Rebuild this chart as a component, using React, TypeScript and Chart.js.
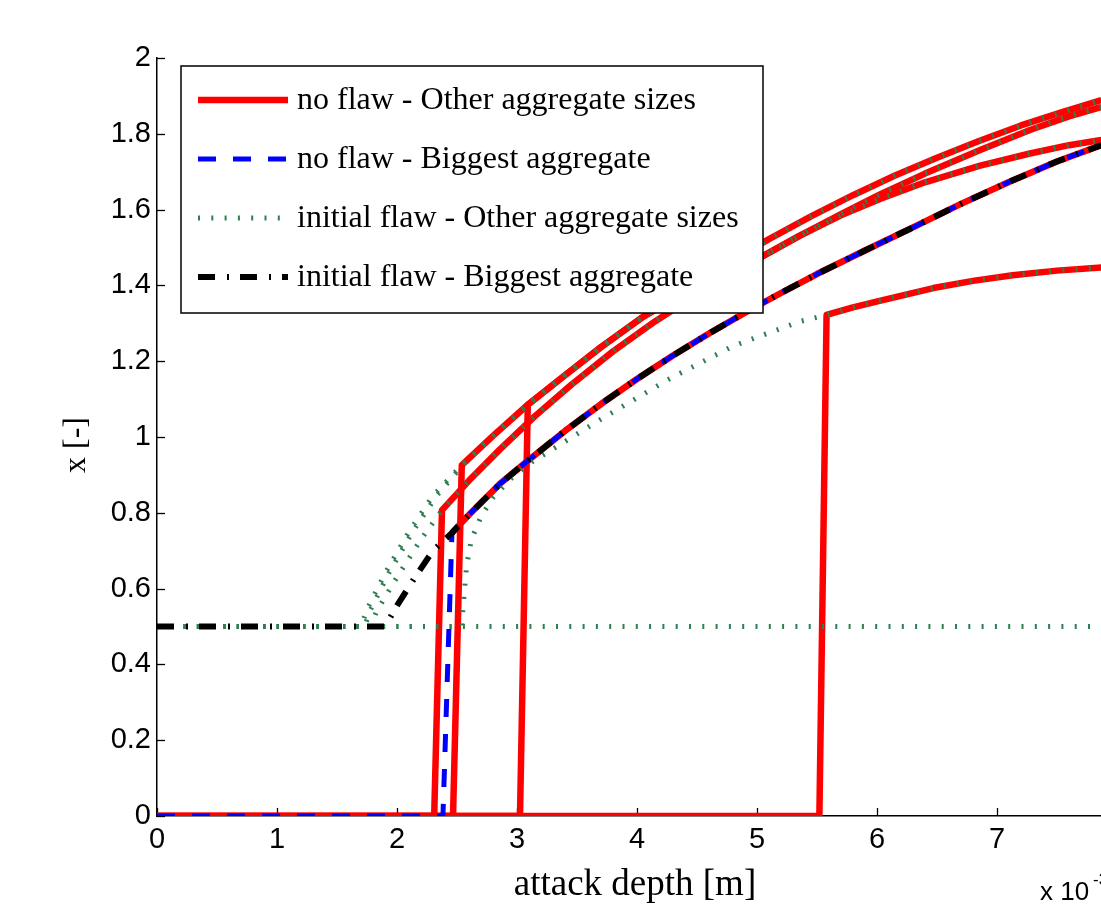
import React, { useEffect, useRef } from "react";
import { Chart, registerables } from "chart.js";

Chart.register(...registerables);

// attack depth in units of 1e-3 m
const X_MAX = 7.867;
const xTicks = [0, 1, 2, 3, 4, 5, 6, 7];
const yTicks = [0, 0.2, 0.4, 0.6, 0.8, 1, 1.2, 1.4, 1.6, 1.8, 2];

// no flaw - other aggregate sizes
const r1X = [0, 2.31, 2.375, 2.6, 2.86, 3.15, 3.45, 3.8, 4.15, 4.42, 4.75, 5.03, 5.35, 5.7, 6.025, 6.4, 6.86, 7.275, 7.6, 7.87];
const r1Y = [0, 0, 0.807, 0.885, 0.968, 1.055, 1.137, 1.226, 1.305, 1.36, 1.422, 1.474, 1.53, 1.588, 1.64, 1.695, 1.757, 1.81, 1.846, 1.871];

const r2X = [0, 2.467, 2.54, 2.8, 3.09, 3.4, 3.7, 4.05, 4.4, 4.75, 5.1, 5.45, 5.8, 6.15, 6.5, 6.85, 7.2, 7.55, 7.87];
const r2Y = [0, 0, 0.926, 1.003, 1.085, 1.163, 1.237, 1.317, 1.39, 1.458, 1.522, 1.582, 1.638, 1.69, 1.737, 1.781, 1.822, 1.858, 1.889];

const r3X = [0, 3.025, 3.09, 3.4, 3.7, 4.05, 4.4, 4.75, 5.03, 5.35, 5.7, 6.025, 6.4, 6.86, 7.275, 7.6, 7.87];
const r3Y = [0, 0, 1.085, 1.163, 1.237, 1.317, 1.38, 1.43, 1.474, 1.53, 1.585, 1.628, 1.672, 1.716, 1.748, 1.77, 1.784];

const r4X = [0, 5.52, 5.58, 5.8, 6.03, 6.47, 6.8, 7.13, 7.5, 7.87];
const r4Y = [0, 0, 1.322, 1.342, 1.36, 1.393, 1.412, 1.427, 1.439, 1.447];

const r5X = [2.458, 2.6, 2.86, 3.1, 3.4, 3.7, 4.0, 4.3, 4.6, 4.9, 5.2, 5.5, 5.9, 6.3, 6.7, 7.1, 7.5, 7.87];
const r5Y = [0.747, 0.795, 0.877, 0.94, 1.016, 1.087, 1.153, 1.215, 1.273, 1.328, 1.38, 1.43, 1.492, 1.553, 1.615, 1.673, 1.727, 1.77];

// no flaw - biggest aggregate
const bX = [0, 2.383, 2.458, 2.6, 2.86, 3.1, 3.4, 3.7, 4.0, 4.3, 4.6, 4.9, 5.2, 5.5, 5.9, 6.3, 6.7, 7.1, 7.5, 7.87];
const bY = [0, 0, 0.747, 0.795, 0.877, 0.94, 1.016, 1.087, 1.153, 1.215, 1.273, 1.328, 1.38, 1.43, 1.492, 1.553, 1.615, 1.673, 1.727, 1.77];

// initial flaw - other aggregate sizes
const g1X = [0, 1.7, 1.75, 1.9, 2.1, 2.3, 2.54, 2.8, 3.09, 3.4, 3.7, 4.05, 4.4, 4.75, 5.1, 5.45, 5.8, 6.15, 6.5, 6.85, 7.2, 7.55, 7.87];
const g1Y = [0.5, 0.5, 0.545, 0.64, 0.75, 0.845, 0.926, 1.003, 1.085, 1.163, 1.237, 1.317, 1.39, 1.458, 1.522, 1.582, 1.638, 1.69, 1.737, 1.781, 1.822, 1.858, 1.889];

const g2X = [0, 1.78, 1.83, 2.0, 2.2, 2.375, 2.6, 2.86, 3.15, 3.45, 3.8, 4.15, 4.42, 4.75, 5.03, 5.35, 5.7, 6.025, 6.4, 6.86, 7.275, 7.6, 7.87];
const g2Y = [0.5, 0.5, 0.54, 0.63, 0.73, 0.807, 0.885, 0.968, 1.055, 1.137, 1.226, 1.305, 1.36, 1.422, 1.474, 1.53, 1.588, 1.64, 1.695, 1.757, 1.81, 1.846, 1.871];

const g3X = [0, 1.73, 1.78, 1.93, 2.13, 2.33, 2.56, 2.8, 3.09, 3.4, 3.7, 4.05, 4.4, 4.75, 5.03, 5.35, 5.7, 6.025, 6.4, 6.86, 7.275, 7.6, 7.87];
const g3Y = [0.5, 0.5, 0.545, 0.64, 0.75, 0.845, 0.93, 1.003, 1.085, 1.163, 1.237, 1.317, 1.38, 1.43, 1.474, 1.53, 1.585, 1.628, 1.672, 1.716, 1.748, 1.77, 1.784];

const g4X = [0, 2.54, 2.55, 2.58, 2.62, 2.7, 2.8, 2.95, 3.13, 3.69, 4.25, 4.8, 5.36, 5.58, 5.8, 6.03, 6.47, 6.8, 7.13, 7.5, 7.87];
const g4Y = [0.5, 0.5, 0.55, 0.66, 0.73, 0.79, 0.84, 0.89, 0.935, 1.045, 1.15, 1.24, 1.305, 1.322, 1.342, 1.36, 1.393, 1.412, 1.427, 1.439, 1.447];

const g5X = [0, 7.87];
const g5Y = [0.5, 0.5];

// initial flaw - biggest aggregate
const kX = [0, 1.9, 2.0, 2.15, 2.3, 2.458, 2.6, 2.86, 3.1, 3.4, 3.7, 4.0, 4.3, 4.6, 4.9, 5.2, 5.5, 5.9, 6.3, 6.7, 7.1, 7.5, 7.87];
const kY = [0.5, 0.5, 0.555, 0.63, 0.7, 0.747, 0.795, 0.877, 0.94, 1.016, 1.087, 1.153, 1.215, 1.273, 1.328, 1.38, 1.43, 1.492, 1.553, 1.615, 1.673, 1.727, 1.77];

const legendLabels = [
  "no flaw - Other aggregate sizes",
  "no flaw - Biggest aggregate",
  "initial flaw - Other aggregate sizes",
  "initial flaw - Biggest aggregate",
];

const STYLE_RED = { color: "#ff0000", width: 6.5, dash: [] as number[] };
const STYLE_BLUE = { color: "#0000ff", width: 5, dash: [18, 17] };
const STYLE_GREEN = { color: "#2f7f52", width: 5, dash: [2, 11.3] };
const STYLE_BLACK = { color: "#000000", width: 6, dash: [17, 12, 2, 11] };
const legendStyles = [STYLE_RED, STYLE_BLUE, STYLE_GREEN, STYLE_BLACK];

const pts = (xs: number[], ys: number[]) => xs.map((x, i) => ({ x, y: ys[i] }));

const mk = (label: string, xs: number[], ys: number[], st: typeof STYLE_RED, order: number) => ({
  label,
  data: pts(xs, ys),
  showLine: true,
  borderColor: st.color,
  backgroundColor: st.color,
  borderWidth: st.width,
  borderDash: st.dash,
  borderCapStyle: "butt" as const,
  borderJoinStyle: "round" as const,
  pointRadius: 0,
  pointHoverRadius: 0,
  fill: false,
  tension: 0,
  order,
});

const SANS = "'Liberation Sans', Arial, sans-serif";
const SERIF = "'Liberation Serif', 'Times New Roman', serif";

const decorPlugin = {
  id: "decor",
  beforeDatasetsDraw(chart: any) {
    const { ctx, chartArea, scales } = chart;
    ctx.save();
    ctx.strokeStyle = "#000";
    ctx.lineWidth = 1.3;
    const tl = 8;
    yTicks.forEach((v) => {
      const py = Math.round(scales.y.getPixelForValue(v)) + 0.5;
      ctx.beginPath();
      ctx.moveTo(chartArea.left, py);
      ctx.lineTo(chartArea.left + tl, py);
      ctx.stroke();
    });
    xTicks.forEach((v) => {
      const px = Math.round(scales.x.getPixelForValue(v)) + 0.5;
      ctx.beginPath();
      ctx.moveTo(px, chartArea.bottom);
      ctx.lineTo(px, chartArea.bottom - tl);
      ctx.stroke();
    });
    ctx.restore();
  },
  afterDraw(chart: any) {
    const { ctx, chartArea } = chart;
    ctx.save();
    // legend box
    const lx = chartArea.left + 24;
    const ly = chartArea.top + 8;
    const lw = 582;
    const lh = 247;
    ctx.fillStyle = "#fff";
    ctx.fillRect(lx, ly, lw, lh);
    ctx.strokeStyle = "#000";
    ctx.lineWidth = 1.5;
    ctx.setLineDash([]);
    ctx.strokeRect(lx, ly, lw, lh);
    ctx.font = `32px ${SERIF}`;
    ctx.textBaseline = "middle";
    ctx.textAlign = "left";
    legendLabels.forEach((lab, i) => {
      const ry = ly + 34 + i * 59;
      const st = legendStyles[i];
      ctx.beginPath();
      ctx.strokeStyle = st.color;
      ctx.lineWidth = st.width;
      ctx.lineCap = "butt";
      ctx.setLineDash(st.dash);
      ctx.moveTo(lx + 17, ry);
      ctx.lineTo(lx + 107, ry);
      ctx.stroke();
      ctx.setLineDash([]);
      ctx.fillStyle = "#000";
      ctx.fillText(lab, lx + 116, ry + 1);
    });
    // axis titles
    ctx.fillStyle = "#000";
    ctx.font = `37px ${SERIF}`;
    ctx.textAlign = "center";
    ctx.textBaseline = "alphabetic";
    ctx.fillText("attack depth [m]", (chartArea.left + chartArea.right) / 2 + 6, chartArea.bottom + 79);
    ctx.save();
    ctx.font = `32px ${SERIF}`;
    ctx.translate(85, (chartArea.top + chartArea.bottom) / 2 + 8);
    ctx.rotate(-Math.PI / 2);
    ctx.fillText("x [-]", 0, 0);
    ctx.restore();
    // exponent label
    ctx.font = `26px ${SANS}`;
    ctx.textAlign = "left";
    ctx.fillText("x 10", chartArea.right - 61, chartArea.bottom + 84);
    ctx.font = `17px ${SANS}`;
    ctx.fillText("-3", chartArea.right - 8, chartArea.bottom + 69);
    ctx.restore();
  },
};

export default function App() {
  const ref = useRef<HTMLCanvasElement | null>(null);
  useEffect(() => {
    if (!ref.current) return;
    const datasets = [
      mk(legendLabels[0], r1X, r1Y, STYLE_RED, 4),
      mk(legendLabels[0], r2X, r2Y, STYLE_RED, 4),
      mk(legendLabels[0], r3X, r3Y, STYLE_RED, 4),
      mk(legendLabels[0], r4X, r4Y, STYLE_RED, 4),
      mk(legendLabels[0], r5X, r5Y, STYLE_RED, 4),
      mk(legendLabels[1], bX, bY, STYLE_BLUE, 3),
      mk(legendLabels[2], g1X, g1Y, STYLE_GREEN, 2),
      mk(legendLabels[2], g2X, g2Y, STYLE_GREEN, 2),
      mk(legendLabels[2], g3X, g3Y, STYLE_GREEN, 2),
      mk(legendLabels[2], g4X, g4Y, STYLE_GREEN, 2),
      mk(legendLabels[2], g5X, g5Y, STYLE_GREEN, 2),
      mk(legendLabels[3], kX, kY, STYLE_BLACK, 1),
    ];
    const chart = new Chart(ref.current, {
      type: "scatter",
      data: { datasets } as any,
      options: {
        animation: false,
        responsive: false,
        events: [],
        layout: { padding: { top: 58, right: 0, left: 0, bottom: 0 } },
        plugins: { legend: { display: false }, tooltip: { enabled: false } },
        scales: {
          x: {
            type: "linear",
            min: 0,
            max: X_MAX,
            grid: { display: false, drawTicks: false },
            border: { display: true, color: "#000", width: 1.5 },
            ticks: {
              stepSize: 1,
              includeBounds: false,
              color: "#000",
              font: { family: SANS, size: 29 },
              padding: 7,
              maxRotation: 0,
              callback: (v: any) => String(v),
            },
            afterFit: (s: any) => {
              s.height = 93;
            },
          },
          y: {
            type: "linear",
            min: 0,
            max: 2,
            grid: { display: false, drawTicks: false },
            border: { display: true, color: "#000", width: 1.5 },
            ticks: {
              stepSize: 0.2,
              color: "#000",
              font: { family: SANS, size: 29 },
              padding: 6,
              callback: (v: any) => String(Math.round(Number(v) * 10) / 10),
            },
            afterFit: (s: any) => {
              s.width = 157;
            },
          },
        },
      },
      plugins: [decorPlugin],
    } as any);
    return () => chart.destroy();
  }, []);
  return (
    <div style={{ position: "fixed", left: 0, top: 0, width: 1101, height: 909, background: "#fff", overflow: "hidden" }}>
      <canvas ref={ref} width={1101} height={909} style={{ display: "block" }} />
    </div>
  );
}
